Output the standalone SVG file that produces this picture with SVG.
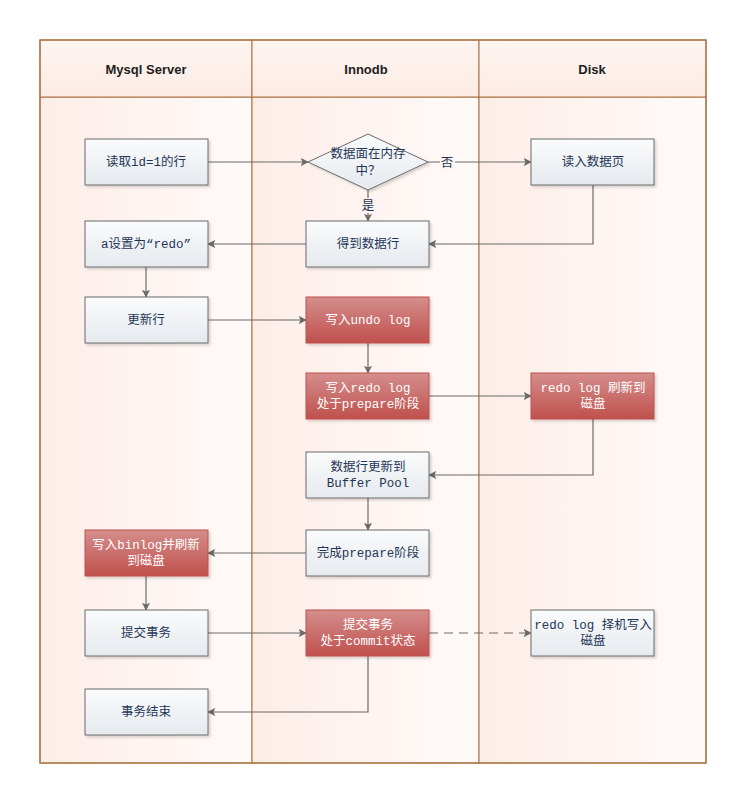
<svg xmlns="http://www.w3.org/2000/svg" width="747" height="804" viewBox="0 0 747 804">
<defs>
<linearGradient id="lane" x1="0" y1="0" x2="1" y2="0">
<stop offset="0" stop-color="#fdede7"/>
<stop offset="0.5" stop-color="#fef4f1"/>
<stop offset="1" stop-color="#fffaf8"/>
</linearGradient>
<linearGradient id="head" x1="0" y1="0" x2="0" y2="1">
<stop offset="0" stop-color="#fdf5f1"/>
<stop offset="1" stop-color="#fdebe4"/>
</linearGradient>
<linearGradient id="gw" x1="0" y1="0" x2="0" y2="1">
<stop offset="0" stop-color="#fafbfc"/>
<stop offset="1" stop-color="#e6eaee"/>
</linearGradient>
<linearGradient id="gr" x1="0" y1="0" x2="0" y2="1">
<stop offset="0" stop-color="#d48e8c"/>
<stop offset="1" stop-color="#c0504d"/>
</linearGradient>
<filter id="sh" x="-10%" y="-10%" width="130%" height="140%">
<feDropShadow dx="2" dy="2" stdDeviation="1" flood-color="#000" flood-opacity="0.15"/>
</filter>
<marker id="ar" viewBox="0 0 10 10" refX="9" refY="5" markerWidth="8" markerHeight="8" markerUnits="userSpaceOnUse" orient="auto">
<path d="M0,0 L10,5 L0,10 L2,5 Z" fill="#6b6b6b"/>
</marker>
</defs>
<style>
.pool{fill:none;stroke:#a8703f;stroke-width:1.2}
.lh{fill:url(#head);stroke:#a8703f;stroke-width:1}
.lb{fill:url(#lane);stroke:#a8703f;stroke-width:1}
.ht{font-family:"Liberation Sans","DejaVu Sans",sans-serif;font-weight:bold;font-size:13px;fill:#1e1e1e;text-anchor:middle}
.w{fill:url(#gw);stroke:#6b6b6b;stroke-width:1;filter:url(#sh)}
.r{fill:url(#gr);stroke:#c0504d;stroke-width:1;filter:url(#sh)}
.t{font-family:"Liberation Mono","Noto Sans CJK SC",monospace;font-size:12.5px;text-anchor:middle;fill:#1f3658}
.tw{font-family:"Liberation Mono","Noto Sans CJK SC",monospace;font-size:12.5px;text-anchor:middle;fill:#ffffff}
.c{fill:none;stroke:#6b6b6b;stroke-width:1.2;marker-end:url(#ar)}
.d{stroke-dasharray:9,6}
.lab{font-family:"Noto Sans CJK SC",sans-serif;font-size:12.5px;text-anchor:middle;fill:#1f3658}
</style>
<g id="pool">
<rect class="lb" x="40" y="97" width="212" height="666"/>
<rect class="lb" x="252" y="97" width="227" height="666"/>
<rect class="lb" x="479" y="97" width="227" height="666"/>
<rect class="lh" x="40" y="40" width="212" height="57"/>
<rect class="lh" x="252" y="40" width="227" height="57"/>
<rect class="lh" x="479" y="40" width="227" height="57"/>
<rect class="pool" x="40" y="40" width="666" height="723"/>
<text class="ht" x="146" y="74">Mysql Server</text>
<text class="ht" x="366" y="74">Innodb</text>
<text class="ht" x="592" y="74">Disk</text>
</g>
<g id="connectors">
<path class="c" d="M208,162 H308"/>
<path class="c" d="M428,162 H531"/>
<path class="c" d="M368,190 V221"/>
<path class="c" d="M593,185 V244 H429"/>
<path class="c" d="M306,244 H208"/>
<path class="c" d="M146,267 V297"/>
<path class="c" d="M208,320 H306"/>
<path class="c" d="M368,343 V373"/>
<path class="c" d="M429,396 H531"/>
<path class="c" d="M593,419 V475 H429"/>
<path class="c" d="M368,498 V530"/>
<path class="c" d="M306,553 H208"/>
<path class="c" d="M146,576 V610"/>
<path class="c" d="M208,633 H306"/>
<path class="c d" d="M429,633 H531"/>
<path class="c" d="M368,656 V712 H208"/>
<rect x="440" y="154" width="15" height="16" fill="#fff6f3"/>
<text class="lab" x="447" y="167">否</text>
<rect x="360" y="198" width="16" height="15" fill="#fef3ef"/>
<text class="lab" x="368" y="210">是</text>
</g>
<g id="n1"><rect class="w" x="85" y="139" width="123" height="46"/><text class="t" x="146" y="166">读取id=1的行</text></g>
<g id="n2"><path class="w" d="M308,162 L368,134 L428,162 L368,190 Z"/><text class="t" x="368" y="158">数据面在内存</text><text class="t" x="368" y="175">中？</text></g>
<g id="n3"><rect class="w" x="531" y="139" width="123" height="46"/><text class="t" x="593" y="166">读入数据页</text></g>
<g id="n4"><rect class="w" x="306" y="221" width="123" height="46"/><text class="t" x="368" y="248">得到数据行</text></g>
<g id="n5"><rect class="w" x="85" y="221" width="123" height="46"/><text class="t" x="146" y="248">a设置为“redo”</text></g>
<g id="n6"><rect class="w" x="85" y="297" width="123" height="46"/><text class="t" x="146" y="324">更新行</text></g>
<g id="n7"><rect class="r" x="306" y="297" width="123" height="46"/><text class="tw" x="368" y="324">写入undo log</text></g>
<g id="n8"><rect class="r" x="306" y="373" width="123" height="46"/><text class="tw" x="368" y="392">写入redo log</text><text class="tw" x="368" y="408">处于prepare阶段</text></g>
<g id="n9"><rect class="r" x="531" y="373" width="123" height="46"/><text class="tw" x="593" y="392">redo log 刷新到</text><text class="tw" x="593" y="408">磁盘</text></g>
<g id="n10"><rect class="w" x="306" y="452" width="123" height="46"/><text class="t" x="368" y="471">数据行更新到</text><text class="t" x="368" y="487">Buffer Pool</text></g>
<g id="n11"><rect class="w" x="306" y="530" width="123" height="46"/><text class="t" x="368" y="557">完成prepare阶段</text></g>
<g id="n12"><rect class="r" x="85" y="530" width="123" height="46"/><text class="tw" x="146" y="549">写入binlog并刷新</text><text class="tw" x="146" y="565">到磁盘</text></g>
<g id="n13"><rect class="w" x="85" y="610" width="123" height="46"/><text class="t" x="146" y="637">提交事务</text></g>
<g id="n14"><rect class="r" x="306" y="610" width="123" height="46"/><text class="tw" x="368" y="629">提交事务</text><text class="tw" x="368" y="645">处于commit状态</text></g>
<g id="n15"><rect class="w" x="531" y="610" width="123" height="46"/><text class="t" x="593" y="629">redo log 择机写入</text><text class="t" x="593" y="645">磁盘</text></g>
<g id="n16"><rect class="w" x="85" y="689" width="123" height="46"/><text class="t" x="146" y="716">事务结束</text></g>
</svg>
